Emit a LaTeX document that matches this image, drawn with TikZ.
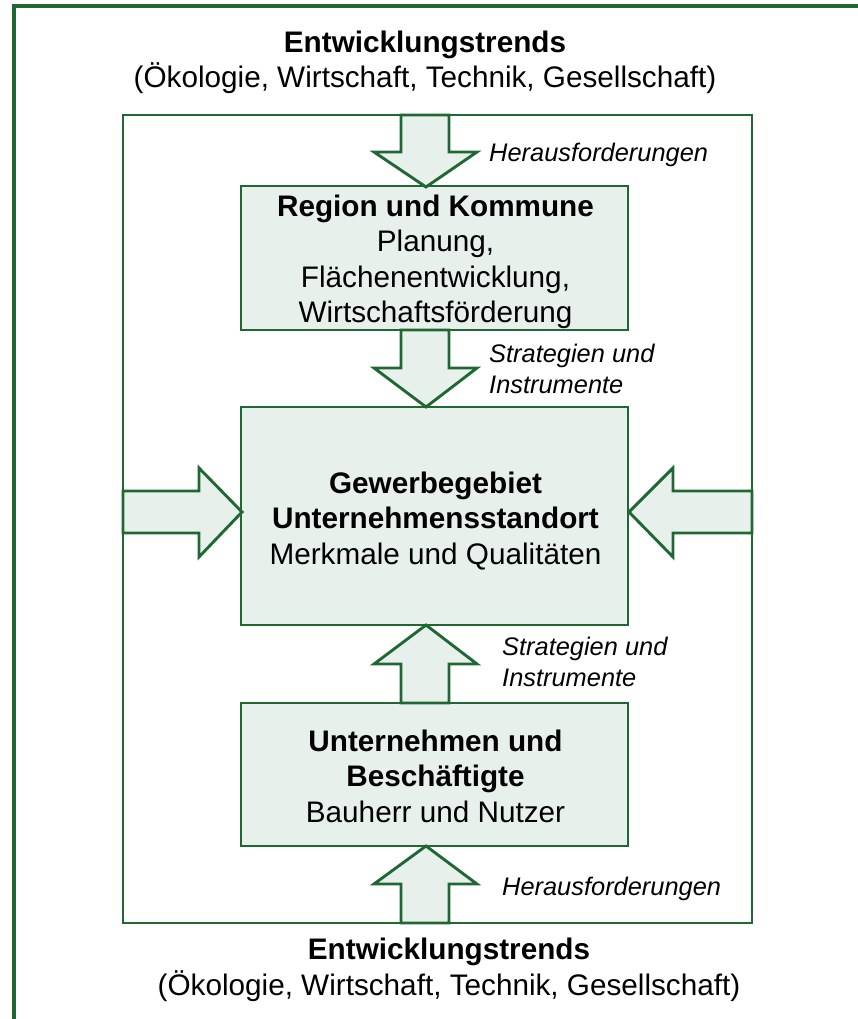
\documentclass[tikz,border=0pt]{standalone}
\usepackage{fontspec}
\setmainfont{Liberation Sans}
\usetikzlibrary{calc}
\definecolor{fgreen}{RGB}{31,104,52}
\definecolor{ffill}{RGB}{232,240,236}
\begin{document}
\begin{tikzpicture}[x=1pt,y=-1pt,
 frame/.style={draw=fgreen,line width=2.9pt},
 box/.style={draw=fgreen,fill=ffill,line width=2.9pt,minimum width=387pt,inner sep=0pt},
 boxtext/.style={align=center,inner sep=0pt,font=\fontsize{29.7}{35.5}\selectfont},
 blockarrow/.style={draw=fgreen,fill=ffill,line width=2.9pt,line join=miter},
 lab/.style={font=\fontsize{25.4}{30}\selectfont\itshape,anchor=base west,inner sep=0pt},
 title/.style={font=\fontsize{29.7}{35}\selectfont,anchor=base,inner sep=0pt}]
\useasboundingbox (0,0) rectangle (857,1019);
\draw[frame,line width=3.2pt] (870,6) -- (14,6) -- (14,1030);
\draw[frame] (123,115) rectangle (752,923);

\node[box,minimum height=144pt] (region) at (434.5,258) {};
\node[box,minimum height=218pt] (gewerbe) at (434.5,516) {};
\node[box,minimum height=143pt] (unternehmen) at (434.5,774.5) {};
\node[boxtext] (regiontext) at ($(region.center)+(1,4)$) {\textbf{Region und Kommune}\\Planung,\\Flächenentwicklung,\\Wirtschaftsförderung};
\node[boxtext] (gewerbetext) at ($(gewerbe.center)+(1,5)$) {\textbf{Gewerbegebiet}\\\textbf{Unternehmensstandort}\\Merkmale und Qualitäten};
\node[boxtext] (unternehmentext) at ($(unternehmen.center)+(1,1.5)$) {\textbf{Unternehmen und}\\\textbf{Beschäftigte}\\Bauherr und Nutzer};

% block arrows
\draw[blockarrow] (401,115) -- (401,152) -- (374,152) -- (426,187) -- (477,152) -- (449,152) -- (449,115) -- cycle;
\draw[blockarrow] (401,330) -- (401,368) -- (374,368) -- (426,407) -- (477,368) -- (449,368) -- (449,330) -- cycle;
\draw[blockarrow] (401,703) -- (401,664) -- (374,664) -- (426,625) -- (477,664) -- (449,664) -- (449,703) -- cycle;
\draw[blockarrow] (401,923) -- (401,884) -- (374,884) -- (426,846) -- (477,884) -- (449,884) -- (449,923) -- cycle;
\draw[blockarrow] (123,491) -- (199,491) -- (199,468) -- (242,512) -- (199,557) -- (199,533) -- (123,533) -- cycle;
\draw[blockarrow] (752,491) -- (673,491) -- (673,468) -- (629,512) -- (673,557) -- (673,533) -- (752,533) -- cycle;

% titles
\node[title] (t1) at (425,53) {\textbf{Entwicklungstrends}};
\node[title] (t2) at (425,88) {(Ökologie, Wirtschaft, Technik, Gesellschaft)};
\node[title] (b1) at (449,959) {\textbf{Entwicklungstrends}};
\node[title] (b2) at (449,995) {(Ökologie, Wirtschaft, Technik, Gesellschaft)};

% labels
\node[lab] (l1) at (489,162) {Herausforderungen};
\node[lab] (l2) at (489,362) {Strategien und};
\node[lab] (l3) at (489,393) {Instrumente};
\node[lab] (l4) at (502,655) {Strategien und};
\node[lab] (l5) at (502,686) {Instrumente};
\node[lab] (l6) at (502,895) {Herausforderungen};
\end{tikzpicture}
\end{document}
